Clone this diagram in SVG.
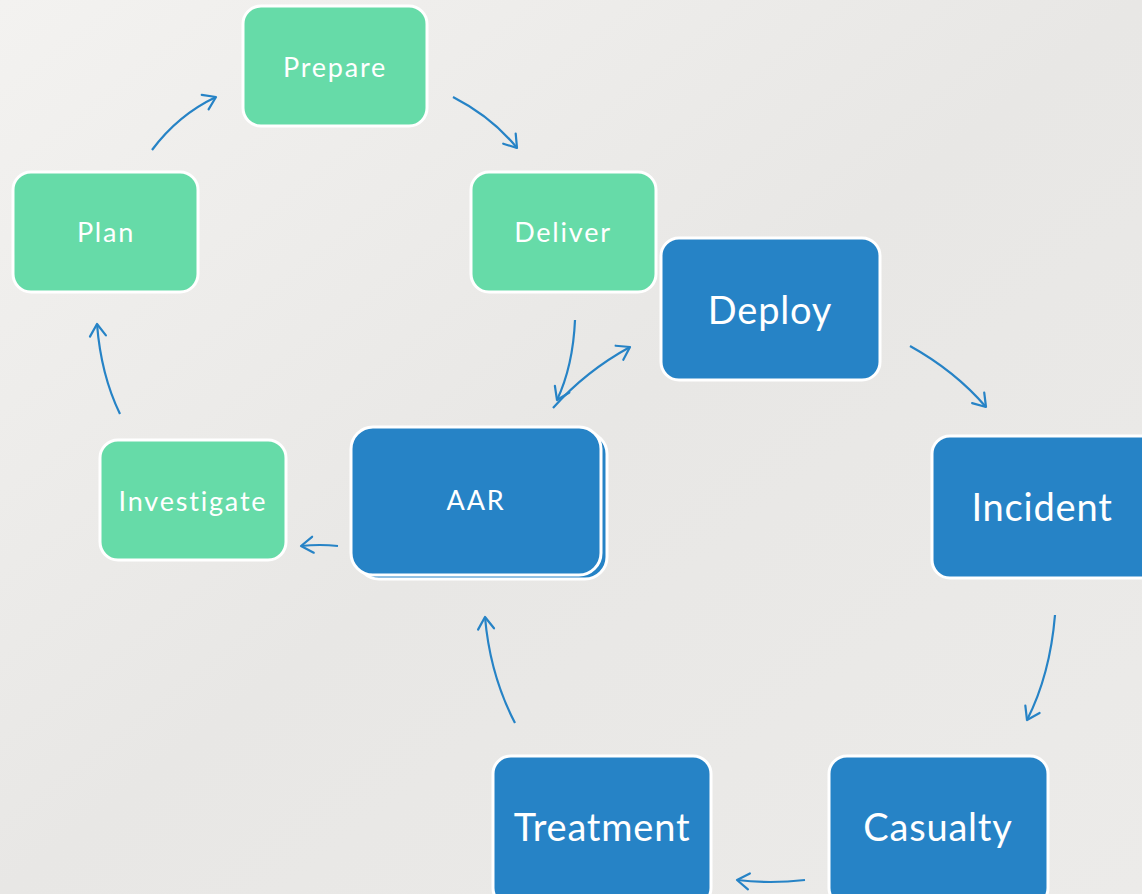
<svg xmlns="http://www.w3.org/2000/svg" width="1142" height="894" viewBox="0 0 1142 894">
<defs>
<linearGradient id="bg" x1="0" y1="0" x2="1" y2="1">
<stop offset="0" stop-color="#F3F2F0"/>
<stop offset="0.5" stop-color="#E8E7E5"/>
<stop offset="1" stop-color="#ECEBE9"/>
</linearGradient>
<marker id="ah" viewBox="-14 -10 16 20" refX="0" refY="0" markerWidth="16" markerHeight="20" markerUnits="userSpaceOnUse" orient="auto">
<path d="M-12,-8 L0,0 L-12,8" fill="none" stroke="#2683C6" stroke-width="2.2" stroke-linecap="round" stroke-linejoin="round"/>
</marker>
</defs>
<style>
.g{fill:#66DBA8;stroke:#FFFFFF;stroke-width:3}
.b{fill:#2683C6;stroke:#FFFFFF;stroke-width:3}
.t{font-family:Lato,"Open Sans",sans-serif;fill:#FFFFFF;text-anchor:middle;dominant-baseline:central}
.s{font-size:27px;letter-spacing:1.8px}
.l{font-size:38px;letter-spacing:0.8px}
.c{fill:none;stroke:#2683C6;stroke-width:2.2;marker-end:url(#ah)}
</style>
<rect x="0" y="0" width="1142" height="894" fill="url(#bg)"/>
<g id="connectors">
<path class="c" d="M152,150 Q178,115 216,97"/>
<path class="c" d="M453,97 Q492,117 517,148"/>
<path class="c" d="M575,320 Q573,366 557,400"/>
<path class="c" d="M553,408 Q586,371 630,347"/>
<path class="c" d="M910,346 Q955,371 986,407"/>
<path class="c" d="M1055,615 Q1050,675 1027,720"/>
<path class="c" d="M805,880 Q770,884 737,880"/>
<path class="c" d="M515,723 Q490,675 485,617"/>
<path class="c" d="M338,546 Q320,544 301,546"/>
<path class="c" d="M120,414 Q101,375 97,324"/>
</g>
<g id="prepare"><rect class="g" x="243" y="6" width="184" height="120" rx="18"/><text class="t s" x="335" y="66">Prepare</text></g>
<g id="plan"><rect class="g" x="13" y="172" width="185" height="120" rx="18"/><text class="t s" x="106" y="231">Plan</text></g>
<g id="deliver"><rect class="g" x="471" y="172" width="185" height="120" rx="18"/><text class="t s" x="563" y="231">Deliver</text></g>
<g id="deploy"><rect class="b" x="661" y="238" width="219" height="142" rx="18"/><text class="t l" x="770" y="309">Deploy</text></g>
<g id="incident"><rect class="b" x="932" y="436" width="230" height="142" rx="18"/><text class="t l" x="1042" y="506">Incident</text></g>
<g id="investigate"><rect class="g" x="100" y="440" width="186" height="120" rx="18"/><text class="t s" x="193" y="500">Investigate</text></g>
<g id="aar"><rect class="b" x="357" y="432" width="250" height="147" rx="22"/><rect class="b" x="351" y="427" width="250" height="148" rx="22"/><text class="t s" x="476" y="499">AAR</text></g>
<g id="treatment"><rect class="b" x="493" y="756" width="218" height="150" rx="18"/><text class="t l" x="602" y="826">Treatment</text></g>
<g id="casualty"><rect class="b" x="829" y="756" width="219" height="150" rx="18"/><text class="t l" x="938" y="826">Casualty</text></g>
</svg>
